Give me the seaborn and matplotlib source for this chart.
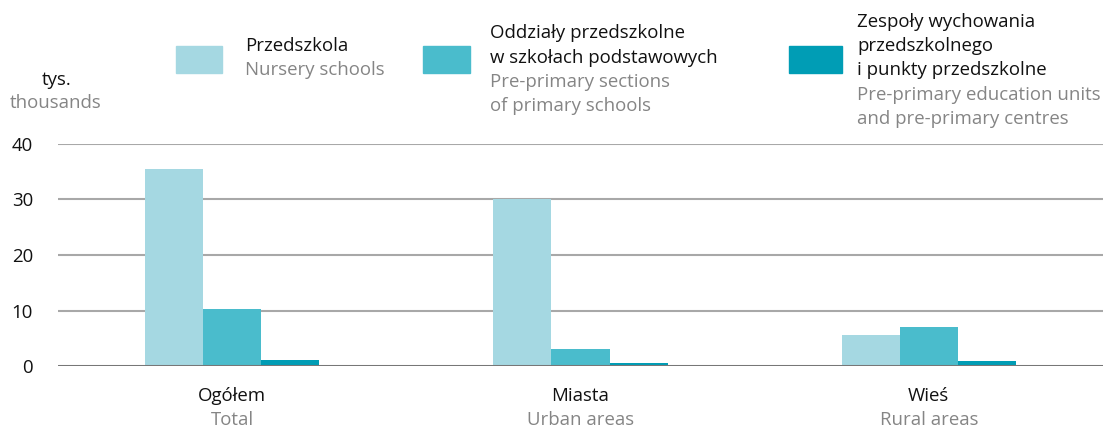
import matplotlib
matplotlib.use("Agg")
import matplotlib.pyplot as plt
import seaborn as sns
import pandas as pd
from matplotlib.patches import Rectangle

# Children in pre-primary education, thousands
categories_pl = ["Ogółem", "Miasta", "Wieś"]
categories_en = ["Total", "Urban areas", "Rural areas"]
series = ["Przedszkola", "Oddziały przedszkolne w szkołach podstawowych",
          "Zespoły wychowania przedszkolnego i punkty przedszkolne"]
nursery = [35.5, 30.1, 5.6]
sections = [10.3, 3.1, 7.0]
units = [1.1, 0.5, 0.9]
colors = ["#a5d8e2", "#4abccc", "#009db5"]
yticks = [0, 10, 20, 30, 40]

rows = []
for s, vals in zip(series, [nursery, sections, units]):
    for c, v in zip(categories_pl, vals):
        rows.append({"cat": c, "series": s, "value": v})
df = pd.DataFrame(rows)

sns.set_theme(style="white")
plt.rcParams["font.family"] = ["Open Sans", "DejaVu Sans"]

FS = 13.4
W, H = 1109, 430
fig = plt.figure(figsize=(W / 100, H / 100), dpi=100)
ax = fig.add_axes([58 / W, (H - 366) / H, (1103 - 58) / W, (366 - 144) / H])

for y in yticks[1:]:
    ax.axhline(y, color="#a8a8a8", lw=1.5, zorder=0)

sns.barplot(data=df, x="cat", y="value", hue="series", order=categories_pl,
            hue_order=series, palette=colors, width=0.5, saturation=1,
            linewidth=0, legend=False, ax=ax, zorder=2)
ax.axhline(0, color="#777777", lw=2.2, zorder=3)

ax.set_xlim(-0.5, 2.5)
ax.set_ylim(0, 40)
ax.set_yticks(yticks)
ax.set_yticklabels([str(t) for t in yticks], fontsize=FS, color="#111111")
ax.tick_params(axis="y", length=0, pad=18)
ax.set_xticks([])
ax.set_xlabel("")
ax.set_ylabel("")
for sp in ax.spines.values():
    sp.set_visible(False)

def ftext(x, y, s, color="#111111", ha="left"):
    fig.text(x / W, 1 - y / H, s, ha=ha, va="center", fontsize=FS, color=color)

grey = "#858585"

# category labels
for i, (pl, en) in enumerate(zip(categories_pl, categories_en)):
    xc = ax.transData.transform((i, 0))[0]
    ftext(xc, 396, pl, ha="center")
    ftext(xc, 420, en, color=grey, ha="center")

# unit label
ftext(57, 80, "tys.", ha="center")
ftext(56, 103, "thousands", color=grey, ha="center")

# legend
patches = [(176, 222), (423, 470), (789, 842)]
for (x0, x1), col in zip(patches, colors):
    fig.patches.append(Rectangle((x0 / W, 1 - 73 / H), (x1 - x0) / W, 27 / H,
                                 transform=fig.transFigure, color=col))
ftext(245, 46, "Przedszkola")
ftext(245, 70, "Nursery schools", color=grey)
ftext(490, 33, "Oddziały przedszkolne")
ftext(490, 58, "w szkołach podstawowych")
ftext(490, 82, "Pre-primary sections", color=grey)
ftext(490, 106, "of primary schools", color=grey)
ftext(857, 22, "Zespoły wychowania")
ftext(857, 46, "przedszkolnego")
ftext(857, 70, "i punkty przedszkolne")
ftext(857, 95, "Pre-primary education units", color=grey)
ftext(857, 119, "and pre-primary centres", color=grey)

fig.savefig("out.png", dpi=100)
